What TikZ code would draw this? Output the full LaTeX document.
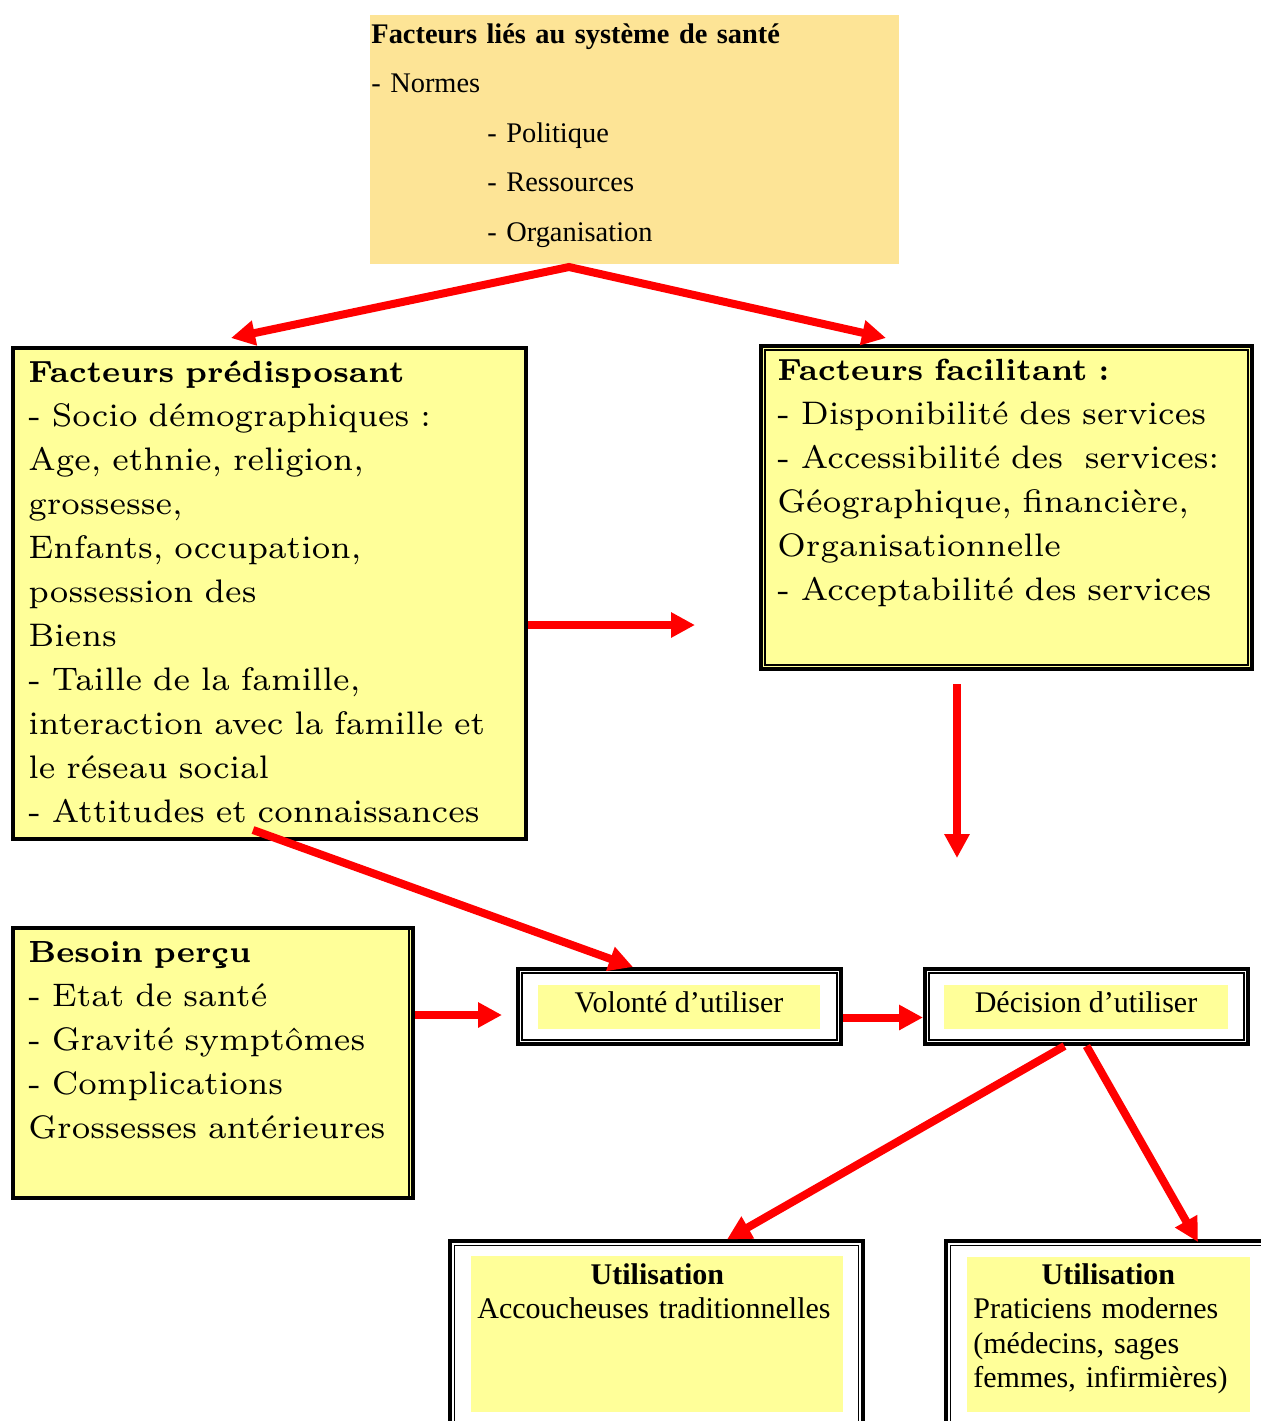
\documentclass[tikz,border=0pt]{standalone}
\usepackage{fontspec}
\setmainfont{Liberation Serif}
\newfontfamily\cmlarge{lmroman7-regular}[Extension=.otf, BoldFont=lmroman7-bold]
\usetikzlibrary{arrows.meta,fit}

\definecolor{jaune}{RGB}{255,255,153}
\definecolor{orangeclair}{RGB}{253,228,150}
\definecolor{rouge}{RGB}{255,0,0}
\newcommand{\titre}[1]{{\fontsize{15.3pt}{22pt}\selectfont\bfseries #1}}

\begin{document}
\begin{tikzpicture}[x=0.5pt, y=-0.5pt,
  fleche/.style={rouge, line width=4pt, -{Triangle[length=12pt,width=12pt]}},
  cadre/.style={draw=black, fill=jaune, line width=1.6pt, inner sep=0pt},
  cadreblanc/.style={draw=black, fill=white, line width=2pt, inner sep=0pt},
  filet/.style={draw=black, line width=0.8pt},
  fond/.style={fill=jaune, inner sep=0pt},
  large/.style={font=\cmlarge\fontsize{16.3pt}{22pt}\selectfont, text width=300pt, align=left, inner sep=0pt, anchor=base west},
  romain/.style={font=\fontsize{15pt}{17.25pt}\selectfont, inner sep=0pt},
]
\clip (0,0) rectangle (1261,1421);
\fill[white] (0,0) rectangle (1261,1421);

% Facteurs lies au systeme de sante
\node[fill=orangeclair, inner sep=0pt, fit={(370,15) (899,264)}] (sante) {};
\node[romain, font=\fontsize{14.2pt}{24.75pt}\selectfont, text width=260pt, align=left, anchor=base west] (santeTxt) at (371,43) {%
  \textbf{Facteurs liés au système de santé}\\
  - Normes\\
  \hspace*{58pt}- Politique\\
  \hspace*{58pt}- Ressources\\
  \hspace*{58pt}- Organisation};

% Facteurs predisposant
\node[cadre, fit={(13,348) (526,839)}] (pred) {};
\node[large] (predTxt) at (28,382) {%
  \titre{Facteurs prédisposant}\\
  - Socio démographiques :\\
  Age, ethnie, religion,\\
  grossesse,\\
  Enfants, occupation,\\
  possession des\\
  Biens\\
  - Taille de la famille,\\
  interaction avec la famille et\\
  le réseau social\\
  - Attitudes et connaissances};

% Facteurs facilitant
\node[cadre, line width=2pt, fit={(761,346) (1252,669)}] (facil) {};
\draw[filet] ([xshift=3pt,yshift=-3pt]facil.north west) rectangle ([xshift=-3pt,yshift=3pt]facil.south east);
\node[large] (facilTxt) at (777,380) {%
  \titre{Facteurs facilitant :}\\
  - Disponibilité des services\\
  - Accessibilité des~~services:\\
  Géographique, financière,\\
  Organisationnelle\\
  - Acceptabilité des services};

% Besoin percu
\node[cadre, line width=2pt, fit={(13,928) (413,1198)}] (besoin) {};
\draw[filet] ([xshift=-3pt,yshift=-1pt]besoin.north east) -- ([xshift=-3pt,yshift=1pt]besoin.south east);
\node[large] (besoinTxt) at (28,962) {%
  \titre{Besoin perçu}\\
  - Etat de santé\\
  - Gravité symptômes\\
  - Complications\\
  Grossesses antérieures};

% Volonte et decision
\node[cadreblanc, fit={(518,969) (841,1044)}] (volonte) {};
\draw[filet] ([xshift=3pt,yshift=-3pt]volonte.north west) rectangle ([xshift=-3pt,yshift=3pt]volonte.south east);
\node[romain, fond, minimum width=141pt, minimum height=22pt, text height=10pt, text depth=5pt] (volonteTxt) at (679,1007) {Volonté d’utiliser};

\node[cadreblanc, fit={(925,969) (1248,1044)}] (decision) {};
\draw[filet] ([xshift=3pt,yshift=-3pt]decision.north west) rectangle ([xshift=-3pt,yshift=3pt]decision.south east);
\node[romain, fond, minimum width=142pt, minimum height=22pt, text height=10pt, text depth=5pt] (decisionTxt) at (1086,1007) {Décision d’utiliser};

% Utilisation
\node[cadreblanc, line width=1.6pt, fit={(450,1241) (863,1450)}] (tradi) {};
\draw[filet] ([xshift=3pt,yshift=-3pt]tradi.north west) rectangle ([xshift=-3pt,yshift=3pt]tradi.south east);
\node[fond, fit={(471,1256) (843,1412)}] (tradiFond) {};
\node[romain, text width=180pt, align=left, anchor=base west] (tradiTxt) at (477,1284) {%
  \makebox[\hsize]{\textbf{Utilisation}}\\
  Accoucheuses traditionnelles};

\node[cadreblanc, line width=1.6pt, fit={(946,1241) (1300,1450)}] (moderne) {};
\draw[filet] ([xshift=3pt,yshift=-3pt]moderne.north west) rectangle ([xshift=-3pt,yshift=3pt]moderne.south east);
\node[fond, fit={(967,1257) (1250,1412)}] (moderneFond) {};
\node[romain, text width=135pt, align=left, anchor=base west] (moderneTxt) at (973,1284) {%
  \makebox[\hsize]{\textbf{Utilisation}}\\
  Praticiens modernes\\
  (médecins, sages\\
  femmes, infirmières)};

% Fleches
\coordinate (fourche) at (569,267);
\coordinate (versPred) at (231,338);
\coordinate (versFacil) at (886,338);
\draw[fleche, {Triangle[length=12pt,width=12pt]}-{Triangle[length=12pt,width=12pt]}] (versPred) -- (fourche) -- (versFacil);

\coordinate (versDroite) at (695,625);
\draw[fleche] (pred.east |- versDroite) -- (versDroite);

\coordinate (versBas) at (957,858);
\draw[fleche] ([yshift=-6.5pt]facil.south -| versBas) -- (versBas);

\coordinate (departAttitudes) at (253,830);
\draw[fleche] (departAttitudes) -- ([xshift=-23.25pt]volonte.north);

\coordinate (versVolonte) at (502,1015);
\draw[fleche] (besoin.east |- versVolonte) -- (versVolonte);
\draw[fleche] ([yshift=-5.5pt]volonte.east) -- ([yshift=-5.5pt]decision.west);

\coordinate (versModerne) at (1198,1242);
\draw[fleche] ([xshift=-11pt]decision.south) -- ([xshift=35.25pt]tradi.north);
\draw[fleche] (decision.south) -- (versModerne);
\end{tikzpicture}
\end{document}
